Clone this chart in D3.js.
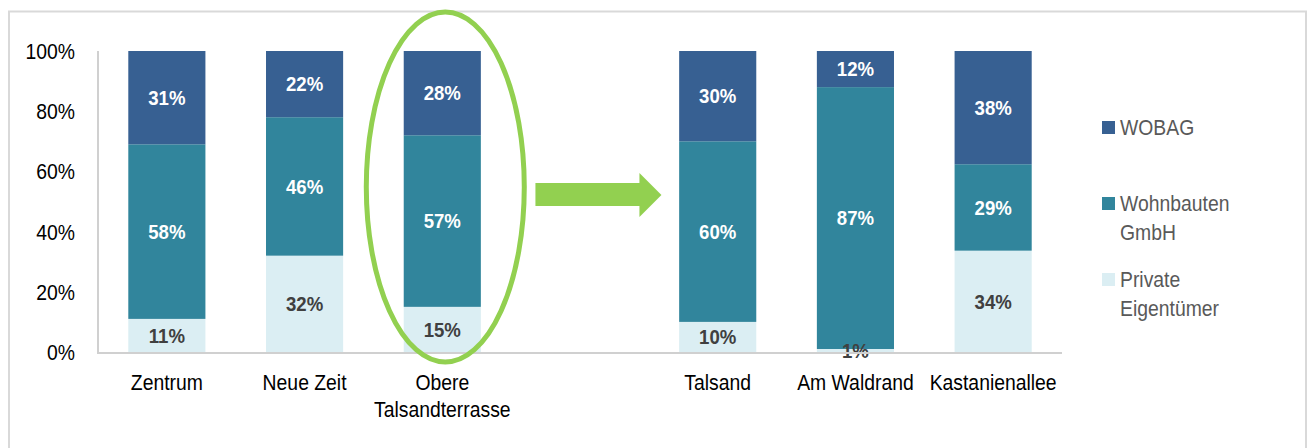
<!DOCTYPE html>
<html>
<head>
<meta charset="utf-8">
<script src="https://cdn.jsdelivr.net/npm/d3@7"></script>
<style>
  body { margin: 0; background: #fff; }
  svg { display: block; font-family: "Liberation Sans", Arial, sans-serif; }
</style>
</head>
<body>
<svg id="chart" width="1311" height="448"></svg>
<script>
// slots along the x axis, "gap" is the empty slot holding the arrow
const slots = ["Zentrum", "Neue Zeit", "Obere Talsandterrasse", "gap", "Talsand", "Am Waldrand", "Kastanienallee"];
const districts = ["Zentrum", "Neue Zeit", "Obere Talsandterrasse", "Talsand", "Am Waldrand", "Kastanienallee"];
const labelLines = {
    "Zentrum": ["Zentrum"],
    "Neue Zeit": ["Neue Zeit"],
    "Obere Talsandterrasse": ["Obere", "Talsandterrasse"],
    "Talsand": ["Talsand"],
    "Am Waldrand": ["Am Waldrand"],
    "Kastanienallee": ["Kastanienallee"]
};
const privat = [11, 32, 15, 10, 1, 34];
const wohnbauten = [58, 46, 57, 60, 87, 29];
const wobag = [31, 22, 28, 30, 12, 38];
const yTicks = [0, 0.2, 0.4, 0.6, 0.8, 1];

const seriesKeys = ["privat", "wohnbauten", "wobag"];
const colors = { privat: "#dbeef3", wohnbauten: "#31859c", wobag: "#376092" };
const labelColors = { privat: "#404040", wohnbauten: "#fff", wobag: "#fff" };
const legendItems = [
    { key: "wobag", lines: ["WOBAG"] },
    { key: "wohnbauten", lines: ["Wohnbauten", "GmbH"] },
    { key: "privat", lines: ["Private", "Eigentümer"] }
];

const rows = districts.map((d, i) => ({ name: d, privat: privat[i], wohnbauten: wohnbauten[i], wobag: wobag[i] }));

const svg = d3.select("#chart");
const sx = 0.88; // text in the picture is a bit narrow

// outer frame
svg.append("rect")
    .attr("x", 9).attr("y", 11.5)
    .attr("width", 1297).attr("height", 460)
    .attr("fill", "none").attr("stroke", "#d9d9d9").attr("stroke-width", 2);

const x = d3.scaleBand()
    .domain(slots)
    .range([98, 1062])
    .paddingInner(0.44)
    .paddingOuter(0.22);

const y = d3.scaleLinear()
    .domain([0, 1])
    .range([352, 51]);

const stacked = d3.stack()
    .keys(seriesKeys)
    .offset(d3.stackOffsetExpand)(rows);

const layers = svg.append("g").selectAll("g")
    .data(stacked)
    .enter().append("g")
    .attr("fill", d => colors[d.key]);

layers.selectAll("rect")
    .data(d => d)
    .enter().append("rect")
    .attr("x", d => x(d.data.name))
    .attr("width", x.bandwidth())
    .attr("y", d => y(d[1]))
    .attr("height", d => y(d[0]) - y(d[1]));

// value labels
stacked.forEach(layer => {
    svg.append("g").selectAll("text")
        .data(layer)
        .enter().append("text")
        .attr("transform", d => `translate(${x(d.data.name) + x.bandwidth() / 2},${(y(d[0]) + y(d[1])) / 2}) scale(0.93,1)`)
        .attr("text-anchor", "middle")
        .attr("dy", "0.36em")
        .attr("font-size", 20)
        .attr("font-weight", "bold")
        .attr("fill", labelColors[layer.key])
        .text(d => d.data[layer.key] + "%");
});

// axes lines
svg.append("line")
    .attr("x1", 98).attr("x2", 98)
    .attr("y1", y(1)).attr("y2", y(0) + 1)
    .attr("stroke", "#d0d0d0").attr("stroke-width", 2);
svg.append("line")
    .attr("x1", 97).attr("x2", x.range()[1])
    .attr("y1", y(0) + 1).attr("y2", y(0) + 1)
    .attr("stroke", "#d0d0d0").attr("stroke-width", 2);

// y tick labels
svg.append("g").selectAll("text")
    .data(yTicks)
    .enter().append("text")
    .attr("transform", d => `translate(75,${y(d)}) scale(${sx},1)`)
    .attr("text-anchor", "end")
    .attr("dy", "0.36em")
    .attr("font-size", 22)
    .attr("fill", "#000")
    .text(d => d3.format(".0%")(d));

// x labels
const xl = svg.append("g").selectAll("text")
    .data(districts)
    .enter().append("text")
    .attr("transform", d => `translate(${x(d) + x.bandwidth() / 2},390) scale(${sx},1)`)
    .attr("text-anchor", "middle")
    .attr("font-size", 22)
    .attr("fill", "#000");
xl.selectAll("tspan")
    .data(d => labelLines[d])
    .enter().append("tspan")
    .attr("x", 0)
    .attr("dy", (d, i) => i === 0 ? 0 : 27)
    .text(d => d);

// green ellipse round "Obere Talsandterrasse"
const ob = x("Obere Talsandterrasse") + x.bandwidth() / 2;
svg.append("ellipse")
    .attr("cx", ob + 3).attr("cy", 187)
    .attr("rx", 79).attr("ry", 175)
    .attr("fill", "none").attr("stroke", "#92d050").attr("stroke-width", 5);

// green arrow in the gap slot
const gx = x("gap");
const arrow = d3.path();
arrow.moveTo(gx - 6, 183);
arrow.lineTo(gx + 98, 183);
arrow.lineTo(gx + 98, 173);
arrow.lineTo(gx + 120, 195);
arrow.lineTo(gx + 98, 217);
arrow.lineTo(gx + 98, 206);
arrow.lineTo(gx - 6, 206);
arrow.closePath();
svg.append("path").attr("d", arrow.toString()).attr("fill", "#92d050");

// legend
const leg = svg.append("g").selectAll("g")
    .data(legendItems)
    .enter().append("g")
    .attr("transform", (d, i) => `translate(1102,${[127.5, 203.5, 279.5][i]})`);
leg.append("rect")
    .attr("x", 0).attr("y", -6.5)
    .attr("width", 13).attr("height", 13)
    .attr("fill", d => colors[d.key]);
const lt = leg.append("text")
    .attr("transform", `translate(18,0) scale(${sx},1)`)
    .attr("font-size", 22)
    .attr("fill", "#595959");
lt.selectAll("tspan")
    .data(d => d.lines)
    .enter().append("tspan")
    .attr("x", 0)
    .attr("dy", (d, i) => i === 0 ? "0.36em" : 29)
    .text(d => d);
</script>
</body>
</html>
